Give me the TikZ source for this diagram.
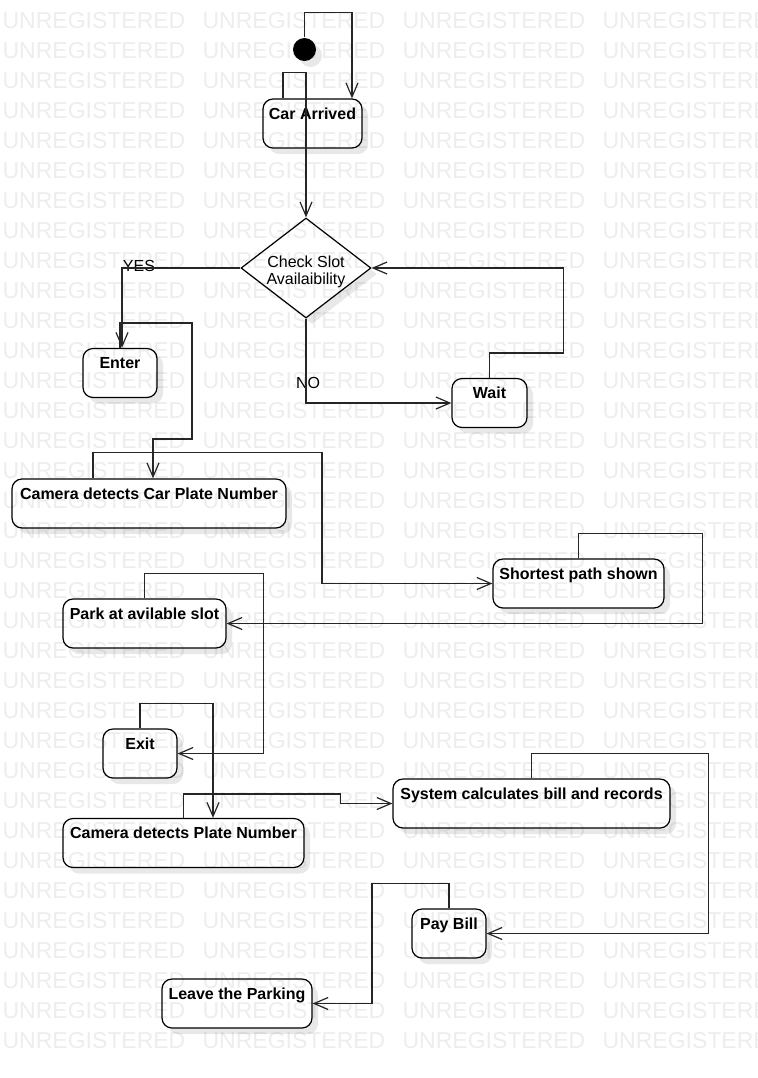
\documentclass[tikz,border=0pt]{standalone}
\usepackage{fontspec}
\setmainfont{Liberation Sans}
\usepackage{tikz}
\usetikzlibrary{arrows.meta}
\usetikzlibrary{shapes.geometric}
\usetikzlibrary{shadows}
\tikzset{act/.style = {draw, rounded corners=5pt, fill=white, inner sep=0pt, text height=10pt, text depth=14.5pt, font=\bfseries\fontsize{8}{9.6}\selectfont, drop shadow={shadow xshift=3pt, shadow yshift=-3pt, opacity=0.09, fill=black}}}
\tikzset{decision/.style = {diamond, draw, fill=white, aspect=1.3, minimum width=65pt, minimum height=50pt, inner xsep=-3pt, inner ysep=0pt, text height=18pt, text depth=1.5pt, align=center, font=\fontsize{8}{8.5}\selectfont, drop shadow={shadow xshift=3pt, shadow yshift=-3pt, opacity=0.09, fill=black}}}
\tikzset{initial/.style = {circle, fill=black, minimum size=11.5pt, inner sep=0pt, drop shadow={shadow xshift=3pt, shadow yshift=-3pt, opacity=0.09, fill=black}}}
\tikzset{arr/.style = {line width=0.6pt, draw=black!85, -{Straight Barb[length=7pt, width=6pt]}}}
\tikzset{guard/.style = {inner sep=0pt, font=\fontsize{8}{9.6}\selectfont}}
\tikzset{wmark/.style = {anchor=base west, inner sep=0pt, text=black, text opacity=0.07, font=\fontsize{11.5}{12}\selectfont}}

\begin{document}
\begin{tikzpicture}[x=0.5pt, y=-0.5pt,
  line width=0.6pt
]
\useasboundingbox (0,0) rectangle (758,1078);

\node[initial] (start) at (304.5,49.5) {};
\node[act, minimum width=49.5pt] (arrived) at (312.5,123.5) {Car Arrived};
\node[decision] (check) at (306,268) {Check Slot\\Availaibility};
\node[act, minimum width=37pt] (enter) at (120,373) {Enter};
\node[act, minimum width=37.5pt] (wait) at (489.5,403) {Wait};
\node[act, minimum width=137pt] (camcar) at (149,503.5) {Camera detects Car Plate Number};
\node[act, minimum width=85.5pt] (path) at (578.5,583.5) {Shortest path shown};
\node[act, minimum width=81.5pt] (park) at (144.5,623.5) {Park at avilable slot};
\node[act, minimum width=37pt] (exit) at (140,753.5) {Exit};
\node[act, minimum width=138.5pt] (bill) at (531.5,803.5) {System calculates bill and records};
\node[act, minimum width=120.5pt] (camplate) at (183.5,843) {Camera detects Plate Number};
\node[act, minimum width=37pt] (pay) at (449,933.5) {Pay Bill};
\node[act, minimum width=75pt] (leave) at (237,1003.5) {Leave the Parking};

\node[guard] (yes) at (139,266) {YES};
\node[guard] (no) at (308,383) {NO};

\draw[arr] (start.north) -- ++(0,-25) -| ([xshift=19.75pt]arrived.north);
\draw[arr] ([xshift=-14.75pt]arrived.north) -- ++(0,-26) -| (check.north);
\draw[arr] (check.west) -| ([xshift=1pt]enter.north);
\draw[arr] (check.south) |- (wait.west);
\draw[arr] (wait.north) -- ++(0,-25) -- ++(74,0) |- (check.east);
\draw[arr] (enter.north) -- ++(0,-25) -- ++(72,0) -- ++(0,116) -| ([xshift=2pt]camcar.north);
\draw[arr] ([xshift=-28pt]camcar.north) -- ++(0,-26) -- ++(229,0) |- (path.west);
\draw[arr] (path.north) -- ++(0,-25) -- ++(124,0) |- (park.east);
\draw[arr] (park.north) -- ++(0,-25) -- ++(119,0) |- (exit.east);
\draw[arr] (exit.north) -- ++(0,-25) -| ([xshift=14.75pt]camplate.north);
\draw[arr] (camplate.north) -- ++(0,-24) -- ++(157,0) |- (bill.west);
\draw[arr] (bill.north) -- ++(0,-25) -- ++(177,0) |- (pay.east);
\draw[arr] (pay.north) -- ++(0,-25) -- ++(-77,0) |- (leave.east);

% watermark
\foreach \r in {0,...,34} {
  \foreach \c in {0,...,3} {
    \node[wmark] (wm-\r-\c) at (2+200*\c, 28+30*\r) {UNREGISTERED};
  }
}

\end{tikzpicture}
\end{document}
